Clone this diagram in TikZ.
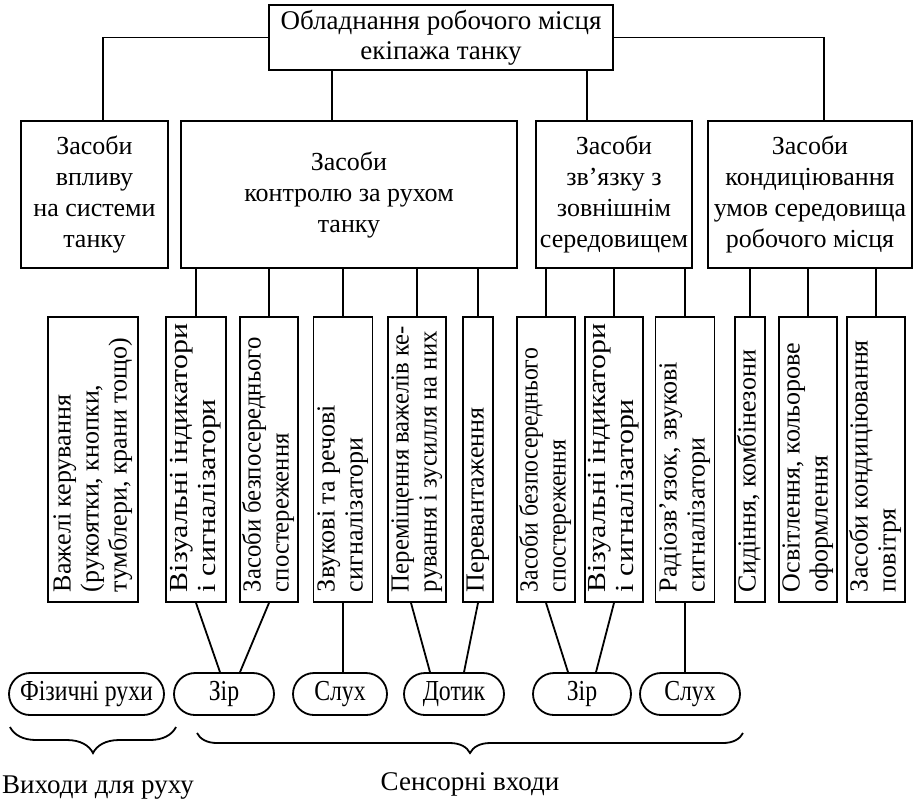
\documentclass[tikz,border=0pt]{standalone}
\usepackage{fontspec}
\setmainfont{Liberation Serif}
\newfontfamily\narrowfont{Liberation Serif}[FakeStretch=0.82]
\usetikzlibrary{shapes.misc,decorations.pathreplacing}

% rotated text for the tall boxes (optional arg stretches the lines)
\newcommand{\vtext}[2][1]{\rotatebox{90}{\makebox[136.5pt][l]{\hspace{2pt}\fontsize{13}{14}\selectfont\scalebox{#1}[1]{\begin{tabular}{@{}l@{}}#2\end{tabular}}}}}

\tikzset{
  box/.style={draw, line width=0.9pt, align=center, inner sep=1pt, minimum height=73.5pt},
  vbox/.style={draw, line width=0.9pt, inner xsep=0.5pt, inner ysep=3pt, minimum height=142.5pt},
  sense/.style={draw, rounded rectangle, line width=0.9pt, minimum height=21pt, inner xsep=1pt,
    font=\narrowfont\fontsize{14.5}{16}\selectfont},
  link/.style={line width=0.9pt}
}

\begin{document}
\begin{tikzpicture}[x=0.5pt, y=-0.5pt, font=\fontsize{13}{15.5}\selectfont]
  \useasboundingbox (0,0) rectangle (913,800);
  % top
  \node[box, minimum width=172pt, minimum height=32.5pt, font=\fontsize{13.5}{15}\selectfont]
    (top) at (441,37.5) {Обладнання робочого місця\\екіпажа танку};
  % second level
  \node[box, minimum width=73.5pt] (vplyv) at (94.5,194.5) {Засоби\\впливу\\на системи\\танку};
  \node[box, minimum width=168pt] (kontrol) at (349,194.5) {Засоби\\контролю за рухом\\танку};
  \node[box, minimum width=78pt] (zvjazok) at (614,194.5) {Засоби\\зв’язку з\\зовнішнім\\середовищем};
  \node[box, minimum width=102pt] (kond) at (810,194.5) {Засоби\\кондиціювання\\умов середовища\\робочого місця};
  \draw[link] (top.west) -| ([xshift=4.25pt]vplyv.north);
  \draw[link] (top.east) -| ([xshift=7pt]kond.north);
  \draw[link] ([xshift=-8.5pt]kontrol.north) -- ([xshift=-8.5pt]kontrol.north |- top.south);
  \draw[link] ([xshift=-13.5pt]zvjazok.north) -- ([xshift=-13.5pt]zvjazok.north |- top.south);
  % third level
  \node[vbox, minimum width=45pt] (v1) at (93,459.5) {\vtext{Важелі керування\\(рукоятки, кнопки,\\тумблери, крани тощо)}};
  \node[vbox, minimum width=30pt] (v2) at (196,459.5) {\vtext[1.15]{Візуальні індикатори\\і сигналізатори}};
  \node[vbox, minimum width=29pt] (v3) at (269,459.5) {\vtext[0.95]{Засоби безпосереднього\\спостереження}};
  \node[vbox, minimum width=29.5pt] (v4) at (343,459.5) {\vtext{Звукові та речові\\сигналізатори}};
  \node[vbox, minimum width=28.5pt] (v5) at (417,459.5) {\vtext[0.95]{Переміщення важелів ке-\\рування і зусилля на них}};
  \node[vbox, minimum width=14pt] (v6) at (478,459.5) {\vtext{Перевантаження}};
  \node[vbox, minimum width=28pt] (v7) at (546,459.5) {\vtext[0.91]{Засоби безпосереднього\\спостереження}};
  \node[vbox, minimum width=29pt] (v8) at (614,459.5) {\vtext[1.15]{Візуальні індикатори\\і сигналізатори}};
  \node[vbox, minimum width=29.5pt] (v9) at (685,459.5) {\vtext{Радіозв’язок, звукові\\сигналізатори}};
  \node[vbox, minimum width=14pt] (v10) at (750,459.5) {\vtext{Сидіння, комбінезони}};
  \node[vbox, minimum width=27.5pt] (v11) at (808,459.5) {\vtext{Освітлення, кольорове\\оформлення}};
  \node[vbox, minimum width=27pt] (v12) at (876,459.5) {\vtext{Засоби кондиціювання\\повітря}};
  \foreach \v in {v2,v3,v4,v5,v6}
    \draw[link] (kontrol.south -| \v.north) -- (\v.north);
  \foreach \v in {v7,v8,v9}
    \draw[link] (zvjazok.south -| \v.north) -- (\v.north);
  \foreach \v in {v10,v11,v12}
    \draw[link] (kond.south -| \v.north) -- (\v.north);
  % inputs and outputs
  \node[sense, minimum width=79.5pt] (phys) at (86.5,694) {Фізичні рухи};
  \node[sense, minimum width=52pt] (zir1) at (224,694) {Зір};
  \node[sense, minimum width=49pt] (sluh1) at (340,694) {Слух};
  \node[sense, minimum width=52pt] (dotyk) at (454,694) {Дотик};
  \node[sense, minimum width=51pt] (zir2) at (582,694) {Зір};
  \node[sense, minimum width=52pt] (sluh2) at (690,694) {Слух};
  \draw[link] (v2.south) -- ([xshift=-2pt]zir1.north);
  \draw[link] (v3.south) -- ([xshift=8pt]zir1.north);
  \draw[link] (v4.south) -- (v4.south |- sluh1.north);
  \draw[link] ([xshift=-3pt]v5.south) -- ([xshift=-12pt]dotyk.north);
  \draw[link] (v6.south) -- ([xshift=5pt]dotyk.north);
  \draw[link] (v7.south) -- ([xshift=-7pt]zir2.north);
  \draw[link] (v8.south) -- ([xshift=7pt]zir2.north);
  \draw[link] (v9.south) -- (v9.south |- sluh2.north);
  % braces
  \draw[link, decorate, decoration={brace, mirror, amplitude=13pt}] (10,727) -- (176,727);
  \draw[link, decorate, decoration={brace, mirror, amplitude=10pt}] (197,733) -- (743,733);
  \node[anchor=base, font=\fontsize{13.5}{15}\selectfont] (vyhody) at (98,793) {Виходи для руху};
  \node[anchor=base, font=\fontsize{13.5}{15}\selectfont] (vhody) at (470,790) {Сенсорні входи};
\end{tikzpicture}
\end{document}
